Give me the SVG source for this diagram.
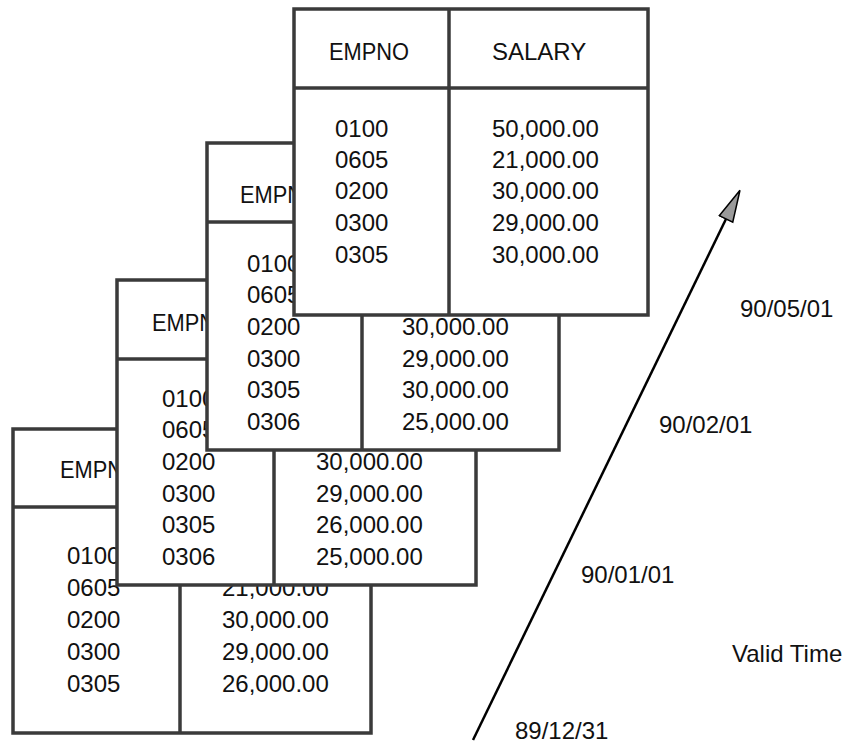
<svg xmlns="http://www.w3.org/2000/svg" width="851" height="745" viewBox="0 0 851 745">
<style>
  .box { fill: #ffffff; stroke: #3a3a3a; stroke-width: 3.5; }
  .ln { stroke: #3a3a3a; stroke-width: 3.5; fill: none; }
  text { font-family: "Liberation Sans", Arial, Helvetica, sans-serif; font-size: 24px; fill: #111; }
  .axis { stroke: #000; stroke-width: 2.5; fill: none; }
</style>
<defs>
  <marker id="head" markerUnits="userSpaceOnUse" markerWidth="34" markerHeight="18" viewBox="0 0 34 18" refX="1" refY="9" orient="auto">
    <path d="M1,1.5 L33,9 L1,16.5 z" fill="#9a9a9a" stroke="#000" stroke-width="1.5"/>
  </marker>
</defs>
<rect x="0" y="0" width="851" height="745" fill="#ffffff"/>

<g id="table-891231">
  <rect class="box" x="13" y="429" width="358" height="304"/>
  <line class="ln" x1="13" y1="507" x2="371" y2="507"/>
  <line class="ln" x1="180" y1="429" x2="180" y2="733"/>
  <text x="60" y="478" textLength="80" lengthAdjust="spacingAndGlyphs">EMPNO</text>
  <text x="67" y="564">0100</text>
  <text x="67" y="596">0605</text>
  <text x="67" y="628">0200</text>
  <text x="67" y="660">0300</text>
  <text x="67" y="692">0305</text>
  <text x="222" y="596">21,000.00</text>
  <text x="222" y="628">30,000.00</text>
  <text x="222" y="660">29,000.00</text>
  <text x="222" y="692">26,000.00</text>
</g>

<g id="table-900101">
  <rect class="box" x="117" y="280" width="359" height="305"/>
  <line class="ln" x1="117" y1="359" x2="476" y2="359"/>
  <line class="ln" x1="274" y1="359" x2="274" y2="585"/>
  <text x="152" y="331" textLength="80" lengthAdjust="spacingAndGlyphs">EMPNO</text>
  <text x="162" y="407">0100</text>
  <text x="162" y="438">0605</text>
  <text x="162" y="470">0200</text>
  <text x="162" y="502">0300</text>
  <text x="162" y="533">0305</text>
  <text x="162" y="565">0306</text>
  <text x="316" y="470">30,000.00</text>
  <text x="316" y="502">29,000.00</text>
  <text x="316" y="533">26,000.00</text>
  <text x="316" y="565">25,000.00</text>
</g>

<g id="table-900201">
  <rect class="box" x="207" y="143" width="352" height="307"/>
  <line class="ln" x1="207" y1="222" x2="559" y2="222"/>
  <line class="ln" x1="362" y1="222" x2="362" y2="450"/>
  <text x="240" y="203" textLength="80" lengthAdjust="spacingAndGlyphs">EMPNO</text>
  <text x="247" y="272">0100</text>
  <text x="247" y="303">0605</text>
  <text x="247" y="335">0200</text>
  <text x="247" y="367">0300</text>
  <text x="247" y="398">0305</text>
  <text x="247" y="430">0306</text>
  <text x="402" y="335">30,000.00</text>
  <text x="402" y="367">29,000.00</text>
  <text x="402" y="398">30,000.00</text>
  <text x="402" y="430">25,000.00</text>
</g>

<g id="table-900501">
  <rect class="box" x="294" y="9" width="354" height="306"/>
  <line class="ln" x1="294" y1="88" x2="648" y2="88"/>
  <line class="ln" x1="449" y1="9" x2="449" y2="315"/>
  <text x="329" y="60" textLength="80" lengthAdjust="spacingAndGlyphs">EMPNO</text>
  <text x="492" y="60">SALARY</text>
  <text x="335" y="137">0100</text>
  <text x="335" y="168">0605</text>
  <text x="335" y="199">0200</text>
  <text x="335" y="231">0300</text>
  <text x="335" y="263">0305</text>
  <text x="492" y="137">50,000.00</text>
  <text x="492" y="168">21,000.00</text>
  <text x="492" y="199">30,000.00</text>
  <text x="492" y="231">29,000.00</text>
  <text x="492" y="263">30,000.00</text>
</g>

<g id="connectors">
  <line class="axis" x1="473" y1="740" x2="726" y2="219" marker-end="url(#head)"/>
</g>

<g id="time-labels">
  <text x="740" y="317">90/05/01</text>
  <text x="659" y="433">90/02/01</text>
  <text x="581" y="583">90/01/01</text>
  <text x="732" y="662">Valid Time</text>
  <text x="515" y="739">89/12/31</text>
</g>
</svg>
